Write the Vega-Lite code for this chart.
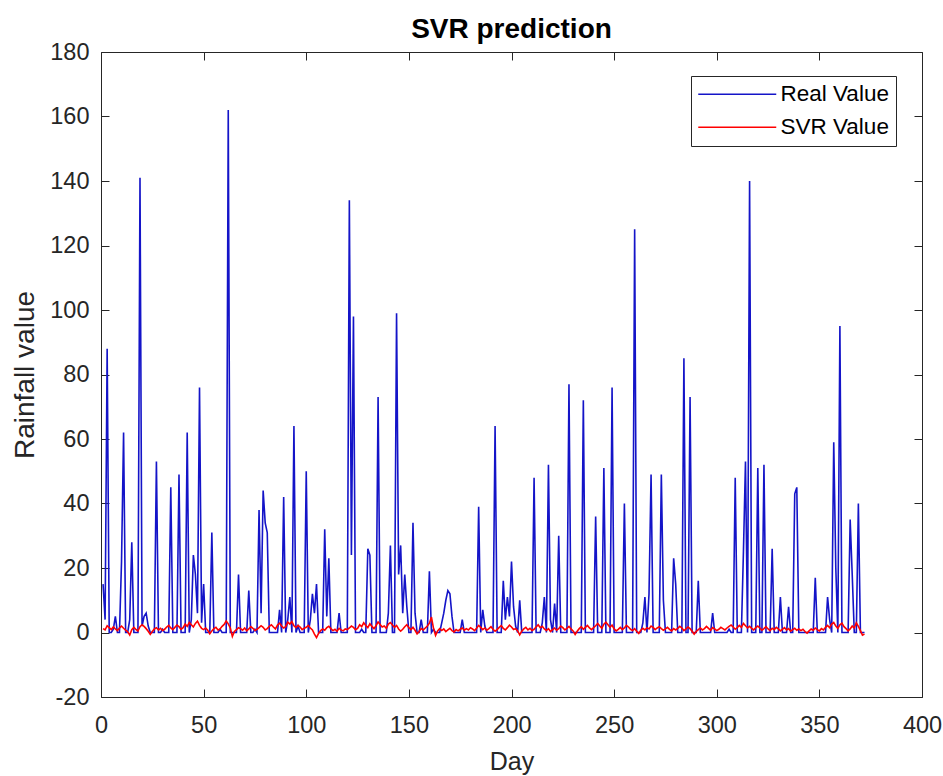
{
"$schema": "https://vega.github.io/schema/vega-lite/v6.json",
"width": 821, "height": 645,
"autosize": "none",
"padding": {"left": 101, "top": 52, "right": 21, "bottom": 79},
"background": "white",
"title": {"text": "SVR prediction", "font": "Liberation Sans", "fontSize": 28, "fontWeight": "bold", "color": "#000000", "anchor": "middle", "frame": "group", "offset": 8, "dy": 12},
"data": {"values": [
{"d":1,"r":15,"s":1.2},{"d":2,"r":4,"s":0.8},{"d":3,"r":88,"s":2.1},{"d":4,"r":0,"s":1.5},{"d":5,"r":0,"s":0.9},{"d":6,"r":1,"s":1.7},{"d":7,"r":5,"s":1.1},{"d":8,"r":0,"s":0.6},{"d":9,"r":0,"s":1.4},{"d":10,"r":22,"s":2.0},
{"d":11,"r":62,"s":1.3},{"d":12,"r":0,"s":0.7},{"d":13,"r":0,"s":0.2},{"d":14,"r":4,"s":-0.8},{"d":15,"r":28,"s":0.9},{"d":16,"r":0,"s":1.6},{"d":17,"r":0,"s":1.0},{"d":18,"r":0,"s":0.5},{"d":19,"r":141,"s":1.8},{"d":20,"r":2,"s":2.4},
{"d":21,"r":5,"s":1.9},{"d":22,"r":6,"s":1.2},{"d":23,"r":2,"s":0.4},{"d":24,"r":0,"s":-0.6},{"d":25,"r":0,"s":0.3},{"d":26,"r":0,"s":1.1},{"d":27,"r":53,"s":1.5},{"d":28,"r":0,"s":0.8},{"d":29,"r":0,"s":1.3},{"d":30,"r":1,"s":0.6},
{"d":31,"r":0,"s":1.0},{"d":32,"r":0,"s":1.7},{"d":33,"r":0,"s":2.2},{"d":34,"r":45,"s":1.4},{"d":35,"r":0,"s":0.9},{"d":36,"r":0,"s":1.6},{"d":37,"r":0,"s":2.3},{"d":38,"r":49,"s":1.8},{"d":39,"r":0,"s":1.0},{"d":40,"r":0,"s":1.5},
{"d":41,"r":0,"s":2.6},{"d":42,"r":62,"s":1.9},{"d":43,"r":0,"s":3.1},{"d":44,"r":4,"s":2.4},{"d":45,"r":24,"s":1.7},{"d":46,"r":18,"s":2.8},{"d":47,"r":6,"s":3.5},{"d":48,"r":76,"s":2.2},{"d":49,"r":3,"s":1.3},{"d":50,"r":15,"s":0.9},
{"d":51,"r":0,"s":1.4},{"d":52,"r":0,"s":0.7},{"d":53,"r":0,"s":-0.4},{"d":54,"r":31,"s":0.5},{"d":55,"r":0,"s":1.2},{"d":56,"r":0,"s":1.6},{"d":57,"r":0,"s":0.8},{"d":58,"r":1,"s":1.1},{"d":59,"r":0,"s":1.9},{"d":60,"r":0,"s":2.5},
{"d":61,"r":0,"s":3.6},{"d":62,"r":162,"s":2.7},{"d":63,"r":0,"s":1.4},{"d":64,"r":0,"s":-1.2},{"d":65,"r":0,"s":0.3},{"d":66,"r":0,"s":0.9},{"d":67,"r":18,"s":1.5},{"d":68,"r":0,"s":1.2},{"d":69,"r":0,"s":0.7},{"d":70,"r":0,"s":1.4},
{"d":71,"r":0,"s":0.5},{"d":72,"r":13,"s":1.1},{"d":73,"r":0,"s":1.8},{"d":74,"r":0,"s":1.3},{"d":75,"r":1,"s":0.6},{"d":76,"r":0,"s":1.0},{"d":77,"r":38,"s":1.5},{"d":78,"r":6,"s":2.1},{"d":79,"r":44,"s":1.6},{"d":80,"r":34,"s":0.8},
{"d":81,"r":31,"s":1.2},{"d":82,"r":0,"s":1.9},{"d":83,"r":0,"s":2.4},{"d":84,"r":0,"s":1.7},{"d":85,"r":0,"s":1.1},{"d":86,"r":0,"s":2.3},{"d":87,"r":7,"s":2.9},{"d":88,"r":0,"s":2.0},{"d":89,"r":42,"s":1.4},{"d":90,"r":0,"s":1.8},
{"d":91,"r":4,"s":3.2},{"d":92,"r":11,"s":2.6},{"d":93,"r":0,"s":3.4},{"d":94,"r":64,"s":2.1},{"d":95,"r":0,"s":1.5},{"d":96,"r":2,"s":2.2},{"d":97,"r":0,"s":1.7},{"d":98,"r":0,"s":0.9},{"d":99,"r":0,"s":1.3},{"d":100,"r":50,"s":1.6},
{"d":101,"r":0,"s":2.2},{"d":102,"r":4,"s":1.4},{"d":103,"r":12,"s":0.8},{"d":104,"r":6,"s":-0.5},{"d":105,"r":15,"s":-1.6},{"d":106,"r":0,"s":-0.3},{"d":107,"r":0,"s":0.6},{"d":108,"r":0,"s":1.1},{"d":109,"r":32,"s":0.7},{"d":110,"r":5,"s":1.5},
{"d":111,"r":23,"s":1.9},{"d":112,"r":0,"s":1.2},{"d":113,"r":0,"s":0.6},{"d":114,"r":0,"s":1.0},{"d":115,"r":0,"s":0.4},{"d":116,"r":6,"s":1.3},{"d":117,"r":0,"s":0.8},{"d":118,"r":0,"s":0.5},{"d":119,"r":0,"s":1.1},{"d":120,"r":0,"s":0.9},
{"d":121,"r":134,"s":1.4},{"d":122,"r":24,"s":2.0},{"d":123,"r":98,"s":1.6},{"d":124,"r":0,"s":0.9},{"d":125,"r":0,"s":1.3},{"d":126,"r":0,"s":2.4},{"d":127,"r":1,"s":1.8},{"d":128,"r":0,"s":3.0},{"d":129,"r":0,"s":2.2},{"d":130,"r":26,"s":1.5},
{"d":131,"r":24,"s":2.7},{"d":132,"r":0,"s":1.9},{"d":133,"r":0,"s":1.2},{"d":134,"r":0,"s":2.1},{"d":135,"r":73,"s":3.3},{"d":136,"r":0,"s":2.5},{"d":137,"r":0,"s":1.7},{"d":138,"r":0,"s":2.0},{"d":139,"r":0,"s":1.3},{"d":140,"r":6,"s":2.6},
{"d":141,"r":27,"s":3.1},{"d":142,"r":0,"s":2.3},{"d":143,"r":0,"s":1.6},{"d":144,"r":99,"s":2.2},{"d":145,"r":18,"s":1.1},{"d":146,"r":27,"s":0.4},{"d":147,"r":6,"s":1.0},{"d":148,"r":18,"s":1.8},{"d":149,"r":8,"s":2.4},{"d":150,"r":0,"s":1.5},
{"d":151,"r":0,"s":0.9},{"d":152,"r":34,"s":1.6},{"d":153,"r":6,"s":0.7},{"d":154,"r":0,"s":-0.4},{"d":155,"r":0,"s":0.3},{"d":156,"r":4,"s":1.2},{"d":157,"r":0,"s":0.8},{"d":158,"r":0,"s":1.4},{"d":159,"r":0,"s":2.0},{"d":160,"r":19,"s":2.9},
{"d":161,"r":0,"s":4.8},{"d":162,"r":1,"s":1.3},{"d":163,"r":0,"s":-0.9},{"d":164,"r":0,"s":0.5},{"d":165,"r":0,"s":1.2},{"d":166,"r":3,"s":0.6},{"d":167,"r":6,"s":1.1},{"d":168,"r":10,"s":0.3},{"d":169,"r":13,"s":0.8},{"d":170,"r":12,"s":1.3},
{"d":171,"r":5,"s":0.6},{"d":172,"r":0,"s":0.2},{"d":173,"r":0,"s":0.9},{"d":174,"r":0,"s":0.5},{"d":175,"r":0,"s":1.0},{"d":176,"r":4,"s":1.4},{"d":177,"r":0,"s":0.7},{"d":178,"r":0,"s":1.2},{"d":179,"r":0,"s":0.8},{"d":180,"r":0,"s":1.5},
{"d":181,"r":0,"s":1.1},{"d":182,"r":0,"s":0.6},{"d":183,"r":0,"s":1.3},{"d":184,"r":39,"s":2.2},{"d":185,"r":0,"s":1.6},{"d":186,"r":7,"s":0.9},{"d":187,"r":2,"s":1.4},{"d":188,"r":0,"s":0.7},{"d":189,"r":0,"s":1.2},{"d":190,"r":0,"s":1.8},
{"d":191,"r":0,"s":1.0},{"d":192,"r":64,"s":0.4},{"d":193,"r":0,"s":0.9},{"d":194,"r":0,"s":1.6},{"d":195,"r":0,"s":2.1},{"d":196,"r":16,"s":1.3},{"d":197,"r":4,"s":0.8},{"d":198,"r":11,"s":1.5},{"d":199,"r":5,"s":2.3},{"d":200,"r":22,"s":1.7},
{"d":201,"r":8,"s":0.9},{"d":202,"r":2,"s":1.2},{"d":203,"r":0,"s":0.5},{"d":204,"r":10,"s":-0.7},{"d":205,"r":0,"s":0.4},{"d":206,"r":0,"s":1.1},{"d":207,"r":0,"s":1.6},{"d":208,"r":0,"s":0.8},{"d":209,"r":0,"s":1.3},{"d":210,"r":0,"s":0.6},
{"d":211,"r":48,"s":1.0},{"d":212,"r":0,"s":1.7},{"d":213,"r":0,"s":2.4},{"d":214,"r":0,"s":1.5},{"d":215,"r":3,"s":1.9},{"d":216,"r":11,"s":1.1},{"d":217,"r":0,"s":0.6},{"d":218,"r":52,"s":1.2},{"d":219,"r":4,"s":0.3},{"d":220,"r":0,"s":0.9},
{"d":221,"r":9,"s":1.4},{"d":222,"r":0,"s":0.7},{"d":223,"r":30,"s":1.2},{"d":224,"r":0,"s":2.0},{"d":225,"r":0,"s":1.5},{"d":226,"r":0,"s":0.8},{"d":227,"r":0,"s":1.3},{"d":228,"r":77,"s":1.9},{"d":229,"r":0,"s":1.1},{"d":230,"r":0,"s":0.5},
{"d":231,"r":0,"s":-0.6},{"d":232,"r":0,"s":0.4},{"d":233,"r":0,"s":1.2},{"d":234,"r":0,"s":1.8},{"d":235,"r":72,"s":1.0},{"d":236,"r":0,"s":1.6},{"d":237,"r":0,"s":2.2},{"d":238,"r":0,"s":1.4},{"d":239,"r":0,"s":0.9},{"d":240,"r":0,"s":1.5},
{"d":241,"r":36,"s":2.1},{"d":242,"r":0,"s":2.8},{"d":243,"r":0,"s":2.0},{"d":244,"r":0,"s":1.3},{"d":245,"r":51,"s":2.6},{"d":246,"r":0,"s":3.2},{"d":247,"r":0,"s":2.4},{"d":248,"r":0,"s":1.6},{"d":249,"r":76,"s":2.3},{"d":250,"r":0,"s":1.1},
{"d":251,"r":0,"s":0.5},{"d":252,"r":0,"s":1.0},{"d":253,"r":0,"s":1.6},{"d":254,"r":0,"s":0.9},{"d":255,"r":40,"s":1.4},{"d":256,"r":0,"s":2.2},{"d":257,"r":0,"s":1.7},{"d":258,"r":0,"s":1.0},{"d":259,"r":0,"s":0.6},{"d":260,"r":125,"s":1.2},
{"d":261,"r":0,"s":0.4},{"d":262,"r":0,"s":-0.3},{"d":263,"r":0,"s":0.7},{"d":264,"r":3,"s":1.3},{"d":265,"r":11,"s":0.8},{"d":266,"r":0,"s":1.5},{"d":267,"r":12,"s":1.1},{"d":268,"r":49,"s":2.0},{"d":269,"r":0,"s":1.6},{"d":270,"r":0,"s":0.9},
{"d":271,"r":0,"s":1.4},{"d":272,"r":0,"s":1.8},{"d":273,"r":49,"s":1.2},{"d":274,"r":10,"s":0.7},{"d":275,"r":0,"s":1.1},{"d":276,"r":0,"s":1.6},{"d":277,"r":0,"s":1.0},{"d":278,"r":0,"s":0.5},{"d":279,"r":23,"s":1.2},{"d":280,"r":15,"s":0.8},
{"d":281,"r":0,"s":1.3},{"d":282,"r":0,"s":1.9},{"d":283,"r":0,"s":1.4},{"d":284,"r":85,"s":0.6},{"d":285,"r":0,"s":1.1},{"d":286,"r":0,"s":1.7},{"d":287,"r":73,"s":1.2},{"d":288,"r":0,"s":0.4},{"d":289,"r":0,"s":-0.5},{"d":290,"r":0,"s":0.3},
{"d":291,"r":16,"s":0.9},{"d":292,"r":0,"s":1.4},{"d":293,"r":0,"s":0.8},{"d":294,"r":0,"s":1.2},{"d":295,"r":0,"s":1.9},{"d":296,"r":0,"s":1.3},{"d":297,"r":0,"s":0.7},{"d":298,"r":6,"s":1.5},{"d":299,"r":0,"s":1.1},{"d":300,"r":0,"s":0.6},
{"d":301,"r":0,"s":1.0},{"d":302,"r":0,"s":1.6},{"d":303,"r":0,"s":1.2},{"d":304,"r":0,"s":0.8},{"d":305,"r":0,"s":1.4},{"d":306,"r":1,"s":1.9},{"d":307,"r":0,"s":2.3},{"d":308,"r":0,"s":1.7},{"d":309,"r":48,"s":1.0},{"d":310,"r":0,"s":1.5},
{"d":311,"r":0,"s":2.2},{"d":312,"r":0,"s":1.6},{"d":313,"r":25,"s":2.8},{"d":314,"r":53,"s":2.1},{"d":315,"r":0,"s":1.4},{"d":316,"r":140,"s":1.9},{"d":317,"r":0,"s":1.3},{"d":318,"r":0,"s":0.8},{"d":319,"r":0,"s":1.5},{"d":320,"r":51,"s":2.0},
{"d":321,"r":0,"s":1.4},{"d":322,"r":0,"s":0.7},{"d":323,"r":52,"s":1.2},{"d":324,"r":0,"s":1.8},{"d":325,"r":0,"s":1.1},{"d":326,"r":0,"s":0.6},{"d":327,"r":26,"s":1.3},{"d":328,"r":0,"s":0.9},{"d":329,"r":0,"s":1.6},{"d":330,"r":0,"s":1.1},
{"d":331,"r":11,"s":0.5},{"d":332,"r":0,"s":1.0},{"d":333,"r":0,"s":1.5},{"d":334,"r":0,"s":0.8},{"d":335,"r":8,"s":1.2},{"d":336,"r":0,"s":0.4},{"d":337,"r":0,"s":0.9},{"d":338,"r":43,"s":1.3},{"d":339,"r":45,"s":0.7},{"d":340,"r":0,"s":1.1},
{"d":341,"r":0,"s":0.6},{"d":342,"r":0,"s":1.0},{"d":343,"r":0,"s":0.3},{"d":344,"r":0,"s":-0.2},{"d":345,"r":0,"s":0.5},{"d":346,"r":0,"s":1.1},{"d":347,"r":0,"s":0.7},{"d":348,"r":17,"s":1.4},{"d":349,"r":0,"s":0.9},{"d":350,"r":0,"s":0.5},
{"d":351,"r":0,"s":1.2},{"d":352,"r":0,"s":0.8},{"d":353,"r":0,"s":1.6},{"d":354,"r":11,"s":2.2},{"d":355,"r":4,"s":1.5},{"d":356,"r":0,"s":2.6},{"d":357,"r":59,"s":3.1},{"d":358,"r":20,"s":2.0},{"d":359,"r":0,"s":1.3},{"d":360,"r":95,"s":2.4},
{"d":361,"r":0,"s":2.9},{"d":362,"r":0,"s":1.8},{"d":363,"r":0,"s":1.2},{"d":364,"r":0,"s":0.5},{"d":365,"r":35,"s":1.1},{"d":366,"r":18,"s":2.0},{"d":367,"r":0,"s":1.4},{"d":368,"r":0,"s":3.0},{"d":369,"r":40,"s":1.9},{"d":370,"r":0,"s":0.6},
{"d":371,"r":0,"s":-0.8},{"d":372,"r":0,"s":-0.5}
]},
"layer": [
{"mark": {"type": "line", "strokeWidth": 1.6, "clip": true},
 "encoding": {
  "x": {"field": "d", "type": "quantitative", "scale": {"domain": [0, 400], "nice": false, "zero": false},
        "axis": {"orient": "bottom", "values": [0,50,100,150,200,250,300,350,400], "title": "Day", "titleFontSize": 25, "titlePadding": 13, "labelPadding": 24}},
  "y": {"field": "r", "type": "quantitative", "scale": {"domain": [-20, 180], "nice": false, "zero": false},
        "axis": {"orient": "left", "values": [-20,0,20,40,60,80,100,120,140,160,180], "title": "Rainfall value", "titleFontSize": 28, "titlePadding": 10, "labelPadding": 20, "labelExpr": "replace(datum.label, '\u2212', '-')"}},
  "color": {"datum": "Real Value", "type": "nominal",
            "scale": {"domain": ["Real Value", "SVR Value"], "range": ["#1414c8", "#ff0000"]},
            "legend": {"orient": "none", "legendX": 590, "legendY": 24, "direction": "vertical", "title": null,
                       "symbolType": "M-3.9,0H3.9", "symbolSize": 400, "symbolStrokeWidth": 1.5, "symbolOffset": 28,
                       "labelOffset": 32, "labelFontSize": 22.5, "labelFont": "Liberation Sans", "labelColor": "#000000",
                       "padding": 7, "rowPadding": 10, "strokeColor": "#262626", "fillColor": "white", "cornerRadius": 0}}
 }},
{"mark": {"type": "line", "strokeWidth": 1.6, "clip": true},
 "encoding": {
  "x": {"field": "d", "type": "quantitative",
        "axis": {"orient": "top", "values": [0,50,100,150,200,250,300,350,400], "labels": false, "title": null, "minExtent": 0, "maxExtent": 0}},
  "y": {"field": "s", "type": "quantitative",
        "axis": {"orient": "right", "values": [-20,0,20,40,60,80,100,120,140,160,180], "labels": false, "title": null, "minExtent": 0, "maxExtent": 0}},
  "color": {"datum": "SVR Value", "type": "nominal"}
 }}
],
"resolve": {"axis": {"x": "independent", "y": "independent"}},
"config": {
  "view": {"stroke": null},
  "axis": {"grid": false, "tickSize": -8, "tickColor": "#262626", "tickWidth": 1, "domainColor": "#262626", "domainWidth": 1,
           "labelFont": "Liberation Sans", "labelFontSize": 23.5, "labelColor": "#262626", "labelFlush": false, "labelOverlap": false,
           "titleFont": "Liberation Sans", "titleFontWeight": "normal", "titleColor": "#262626"}
}
}
